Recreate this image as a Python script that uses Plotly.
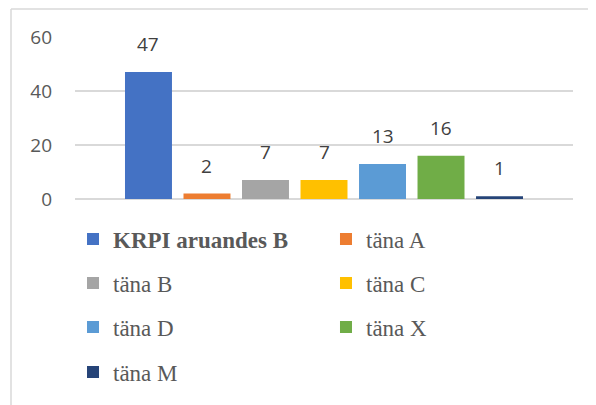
import plotly.graph_objects as go

series = ['KRPI aruandes B', 'täna A', 'täna B', 'täna C', 'täna D', 'täna X', 'täna M']
values = [47, 2, 7, 7, 13, 16, 1]
colors = ['#4472C4', '#ED7D31', '#A5A5A5', '#FFC000', '#5B9BD5', '#70AD47', '#264478']
legend_names = ['<b>KRPI aruandes B</b>', 'täna A', 'täna B', 'täna C', 'täna D', 'täna X', 'täna M']

# one legend per entry, laid out in two columns
col_x = [-0.004, 0.504]
row_y = [-0.247, -0.519, -0.79, -1.068]

fig = go.Figure()
legends = {}
for i, (name, val, col, lname) in enumerate(zip(series, values, colors, legend_names)):
    lid = 'legend' if i == 0 else f'legend{i + 1}'
    fig.add_trace(go.Bar(x=[name], y=[val], name=lname, marker_color=col,
                         marker_line_width=0, legend=lid))
    fig.add_annotation(x=name, y=val, text=str(val), showarrow=False,
                       yanchor='bottom', yshift=13,
                       font=dict(family='Open Sans', size=19, color='#404040'))
    legends[lid] = dict(x=col_x[i % 2], y=row_y[i // 2], xanchor='left', yanchor='middle',
                        font=dict(family='Liberation Serif', size=23, color='#595959'),
                        bgcolor='rgba(0,0,0,0)', itemclick=False)

# chart frame: only the left and top edges fall inside the picture
frame = dict(color='#d9d9d9', width=1.5)

# page body has an 8px margin, so the figure is laid out 8px up/left
fig.update_layout(
    width=596, height=405,
    margin=dict(l=67, r=31, t=29, b=214, autoexpand=False),
    paper_bgcolor='white', plot_bgcolor='white',
    bargap=0.197,
    showlegend=True,
    xaxis=dict(type='category', range=[-1.256, 7.256], showticklabels=False,
               showgrid=False, zeroline=False, showline=False, fixedrange=True),
    yaxis=dict(range=[0, 60], dtick=20, showgrid=True, gridcolor='#d9d9d9',
               gridwidth=1.5, zeroline=True, zerolinecolor='#d9d9d9',
               zerolinewidth=1.5, showline=False, ticklabelstandoff=22,
               tickfont=dict(family='Open Sans', size=19, color='#595959')),
    shapes=[
        dict(type='line', xref='paper', yref='paper', x0=-0.1285, x1=-0.1285,
             y0=-1.6, y1=1.173, line=frame),
        dict(type='line', xref='paper', yref='paper', x0=-0.1285, x1=1.2,
             y0=1.173, y1=1.173, line=frame),
    ],
    **legends,
)

fig.write_html("out.html")
